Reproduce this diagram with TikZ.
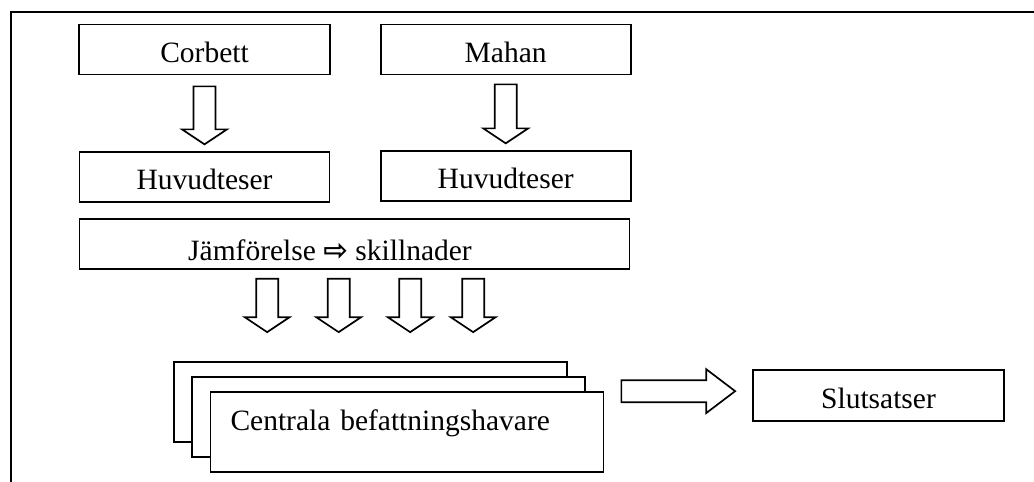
\documentclass[tikz,border=0pt]{standalone}
\usepackage{fontspec}
\setmainfont{Liberation Serif}
\newfontfamily\arrowsymfont{DejaVu Sans}
\usetikzlibrary{positioning}
\usetikzlibrary{calc}
\tikzstyle{base}=[x=1pt, y=-1pt, line width=1.7pt, node distance=15pt]
\tikzstyle{box}=[draw, fill=white, inner sep=0pt, minimum width=250pt, minimum height=50pt, text height=25pt, text depth=0pt]
\tikzstyle{sheet}=[box, minimum width=393pt, minimum height=80pt]
\tikzset{
    downblock/.style n args={3}{to path={let \p1=(\tikztostart), \p2=(\tikztotarget) in
        (\x1-11pt,\y1-#1) -- (\x1-11pt,\y2+#2+#3) -- (\x1-22.5pt,\y2+#2+#3) -- (\x1,\y2+#2)
        -- (\x1+22.5pt,\y2+#2+#3) -- (\x1+11pt,\y2+#2+#3) -- (\x1+11pt,\y1-#1) -- cycle}},
    rightblock/.style n args={3}{to path={let \p1=(\tikztostart), \p2=(\tikztotarget) in
        (\x1+#1,\y1+11pt) -- (\x2-#2-#3,\y1+11pt) -- (\x2-#2-#3,\y1+22pt) -- (\x2-#2,\y1)
        -- (\x2-#2-#3,\y1-22pt) -- (\x2-#2-#3,\y1-11pt) -- (\x1+#1,\y1-11pt) -- cycle}}
}
\begin{document}
\begin{tikzpicture}[base]
    \fontsize{29.5}{34}\selectfont
        \useasboundingbox (0,0) rectangle (1034,482);
        % frame, open at right and bottom
        \draw (11,482) |- (1034,12);
        % the two authors
        \node [box, minimum width=251pt] (corbett) at (204.5,49.5) {Corbett};
        \node [box, right=49pt of corbett] (mahan) {Mahan};
        \node [box, below=76pt of corbett] (huv1) {Huvudteser};
        \node [box, below=75pt of mahan] (huv2) {Huvudteser};
        \draw (corbett.south) to [downblock={11pt}{7pt}{15pt}] (huv1.north);
        \draw (mahan.south) to [downblock={9pt}{7pt}{15pt}] (huv2.north);
        % comparison
        \node [box, minimum width=550pt, text height=34pt, anchor=north west] (jamf) at ($(huv1.south west)+(0,15)$)
            {Jämförelse {\arrowsymfont\bfseries ⇨} skillnader\hspace*{49pt}};
        % stacked sheets
        \node [sheet] (sheet1) at (370.5,402) {};
        \node [sheet] (sheet2) at ($(sheet1)+(18,15)$) {};
        \node [sheet, text width=353pt, inner xsep=20pt, align=left, text height=20pt, text depth=24pt]
            (sheet3) at ($(sheet2)+(18.5,15)$) {Centrala befattningshavare};
        \foreach \dx in {188.5,260,331.5,394.5}
            \draw ($(jamf.south west)+(\dx,0)$) to [downblock={9pt}{29pt}{15pt}] (sheet1.north);
        % result
        \node [box, minimum width=251pt, minimum height=51pt] (slut) at (878.5,395.5) {Slutsatser};
        \draw (sheet3.north east) to [rightblock={17pt}{17pt}{29pt}] (slut.west);
\end{tikzpicture}
\end{document}
